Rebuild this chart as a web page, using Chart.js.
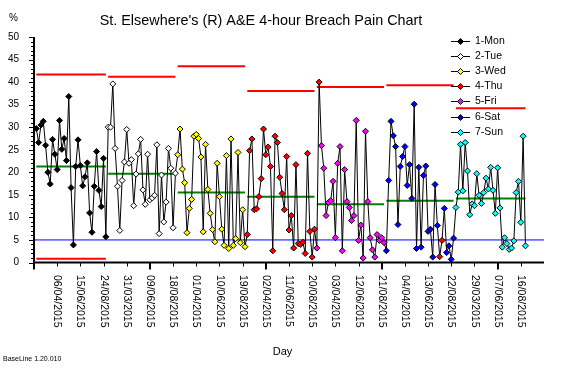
<!DOCTYPE html>
<html><head><meta charset="utf-8">
<script src="https://cdn.jsdelivr.net/npm/chart.js@4"></script>
<style>html,body{margin:0;padding:0;background:#fff;}canvas{display:block}</style>
</head><body>
<canvas id="c" width="564" height="368"></canvas>
<script>
// ---------- data ----------
const weekdayNames = ['1-Mon','2-Tue','3-Wed','4-Thu','5-Fri','6-Sat','7-Sun'];
const monValues = [29.7,26.6,30.5,31.3,26.0,20.0,17.4,27.3,24.0,20.6,31.5,25.1,27.5,22.6,36.8,16.6,3.9,21.3,27.2,21.5,17.0,19.0,22.1,11.0,6.7,16.9,24.6,16.0,12.4,23.1,5.7];
const tueValues = [30.0,30.0,39.6,25.3,16.9,7.1,18.2,22.3,29.5,22.0,22.8,12.6,19.6,24.1,27.3,16.1,12.9,24.0,13.9,14.3,14.9,26.1,6.4,19.4,9.0,13.4,25.3,20.9,7.7,19.8];
const wedValues = [23.9,29.6,20.7,17.7,6.6,12.0,14.0,28.0,28.4,27.5,23.4,6.8,26.2,16.2,10.9,7.3,4.6,22.0,14.6,7.4,3.8,23.7,3.1,27.4,3.8,5.3,24.4,4.4,11.7,3.5];
const thuValues = [6.2,24.8,27.4,11.7,11.9,14.6,18.6,29.6,23.9,25.6,21.3,2.6,28.0,26.6,18.9,15.3,11.7,23.5,7.2,10.4,3.2,21.7,4.2,4.0,4.5,2.0,24.2,6.9,1.2,7.4];
const friValues = [3.2,40.0,25.9,20.9,10.4,13.3,13.7,18.0,5.5,22.0,25.7,2.6,20.6,13.5,12.2,9.3,10.4,31.5,4.9,8.3,1.0,29.1,13.5,5.5,2.8,1.2,6.2,4.9,5.5,4.4];
const satValues = [2.6,18.2,31.3,28.1,25.7,8.4,21.3,23.5,25.7,17.1,21.7,14.2,35.1,3.1,21.1,3.4,19.3,21.4,6.9,7.4,1.2,17.3,8.2,1.3,4.9,12.0,2.2,3.7,0.7,5.4];
const sunValues = [12.2,15.6,26.2,15.9,26.6,20.3,10.6,13.0,12.6,19.7,14.9,13.1,15.5,18.7,16.3,21.1,16.0,10.9,21.0,12.1,3.4,5.5,4.2,2.9,3.2,4.8,15.5,18.0,8.9,28.0,3.7];
const groupMeans = [21.3,19.7,15.5,14.6,12.9,13.7,14.2];
const groupUpper = [41.7,41.2,43.5,38.0,38.9,39.3,34.2];
const groupLower = [0.85,null,null,null,null,null,null];
const baselineValue = 5;
const flaggedIdx = [122,174,175];
const tickLabels = ['06/04/2015','15/06/2015','24/08/2015','31/03/2015','09/06/2015','18/08/2015','01/04/2015','10/06/2015','19/08/2015','02/04/2015','11/06/2015','20/08/2015','03/04/2015','12/06/2015','21/08/2015','04/04/2015','13/06/2015','22/08/2015','29/03/2015','07/06/2015','16/08/2015'];

// ---------- styles ----------
const weekdayColors = ['#000000','#FFFFFF','#FFFF00','#FF0000','#FF00FF','#0000FF','#00FFFF'];
const FONT = "'Liberation Sans', Arial, sans-serif";

const groups = [monValues,tueValues,wedValues,thuValues,friValues,satValues,sunValues];
const allPoints = [], pointColors = [], ranges = [];
let idx = 0;
groups.forEach((vals,g)=>{
  const s = idx;
  vals.forEach(v=>{
    allPoints.push({x:idx,y:v});
    pointColors.push(flaggedIdx.includes(idx)?'#FF0000':weekdayColors[g]);
    idx++;
  });
  ranges.push([s,idx-1]);
});
const totalPts = idx;
const tickIdx = tickLabels.map((_,k)=>9+10*k);
const majorIdx = [-1,49,99,149,199];

const datasets = [{
  data: allPoints, borderColor:'#000', borderWidth:1, tension:0,
  pointStyle:'rectRot', pointRadius:3, pointBackgroundColor:pointColors,
  pointBorderColor:'#000', pointBorderWidth:1, order:0
}];
ranges.forEach((r,g)=>{
  datasets.push({data:[{x:r[0],y:groupUpper[g]},{x:r[1],y:groupUpper[g]}],borderColor:'#FF0000',borderWidth:2,pointRadius:0,order:2});
  datasets.push({data:[{x:r[0],y:groupMeans[g]},{x:r[1],y:groupMeans[g]}],borderColor:'#008000',borderWidth:2,pointRadius:0,order:2});
  if(groupLower[g]!==null) datasets.push({data:[{x:r[0],y:groupLower[g]},{x:r[1],y:groupLower[g]}],borderColor:'#FF0000',borderWidth:2,pointRadius:0,order:2});
});
datasets.push({data:[{x:-1,y:baselineValue},{x:219,y:baselineValue}],borderColor:'#0000FF',borderWidth:1,pointRadius:0,order:3});

function diamond(ctx,x,y,r,fill){
  ctx.beginPath();ctx.moveTo(x,y-r);ctx.lineTo(x+r,y);ctx.lineTo(x,y+r);ctx.lineTo(x-r,y);ctx.closePath();
  ctx.fillStyle=fill;ctx.fill();ctx.lineWidth=1;ctx.strokeStyle='#000';ctx.stroke();
}

const decor = {
  id:'decor',
  afterDraw(chart){
    const ctx = chart.ctx, a = chart.chartArea, xs = chart.scales.x, ys = chart.scales.y;
    ctx.save();
    ctx.fillStyle='#000';
    // axes
    ctx.fillRect(a.left-1,a.top,2,a.bottom-a.top+1);
    ctx.fillRect(a.left-1,a.bottom-1,a.right-a.left+1,2);
    // y ticks
    for(let v=0;v<=50;v++){
      const y = Math.round(ys.getPixelForValue(v));
      const len = v%5===0?4:2;
      ctx.fillRect(a.left-1-len,y,len,1);
    }
    // x ticks
    tickIdx.forEach(i=>{ if(majorIdx.includes(i))return; const x=Math.round(xs.getPixelForValue(i)); ctx.fillRect(x,a.bottom,1,4);});
    majorIdx.forEach(i=>{ const x=Math.round(xs.getPixelForValue(i)); ctx.fillRect(x-1,a.bottom,2,7);});
    // x labels rotated clockwise
    ctx.font = '10.5px '+FONT; ctx.textAlign='left'; ctx.textBaseline='middle';
    tickIdx.forEach((i,k)=>{
      const x = xs.getPixelForValue(i);
      ctx.save(); ctx.translate(x,a.bottom+12.5); ctx.rotate(Math.PI/2);
      ctx.fillText(tickLabels[k],0,0); ctx.restore();
    });
    // texts
    ctx.textBaseline='alphabetic';
    ctx.textAlign='center'; ctx.font='14.4px '+FONT;
    ctx.fillText("St. Elsewhere's (R) A&E 4-hour Breach Pain Chart",261,25);
    ctx.textAlign='left'; ctx.font='10px '+FONT;
    ctx.fillText('%',9,21);
    ctx.textAlign='center'; ctx.font='11px '+FONT;
    ctx.fillText('Day',282.5,354.5);
    ctx.textAlign='left'; ctx.font='7px '+FONT;
    ctx.fillText('BaseLine 1.20.010',3,361);
    // legend
    ctx.font='10.5px '+FONT; ctx.textBaseline='middle';
    weekdayNames.forEach((n,i)=>{
      const y = Math.round(40.7+i*15.17)+0.5;
      ctx.strokeStyle='#000'; ctx.lineWidth=1;
      ctx.beginPath(); ctx.moveTo(451,y); ctx.lineTo(470,y); ctx.stroke();
      diamond(ctx,460.5,y,3,weekdayColors[i]);
      ctx.fillStyle='#000'; ctx.fillText(n,475,y);
    });
    ctx.restore();
  }
};

new Chart(document.getElementById('c'),{
  type:'line',
  data:{datasets},
  options:{
    responsive:false, animation:false, events:[],
    layout:{padding:{top:37,right:20,left:0,bottom:0}},
    plugins:{legend:{display:false},tooltip:{enabled:false},title:{display:false}},
    scales:{
      x:{type:'linear',min:-1,max:219,grid:{display:false},border:{display:false},ticks:{display:false},
         afterFit:s=>{s.height=105.5;}},
      y:{min:0,max:50,grid:{display:false},border:{display:false},
         ticks:{stepSize:5,padding:7,color:'#000',font:{family:FONT,size:10}},
         afterFit:s=>{s.width=34;}}
    }
  },
  plugins:[decor]
});
</script>
</body></html>
